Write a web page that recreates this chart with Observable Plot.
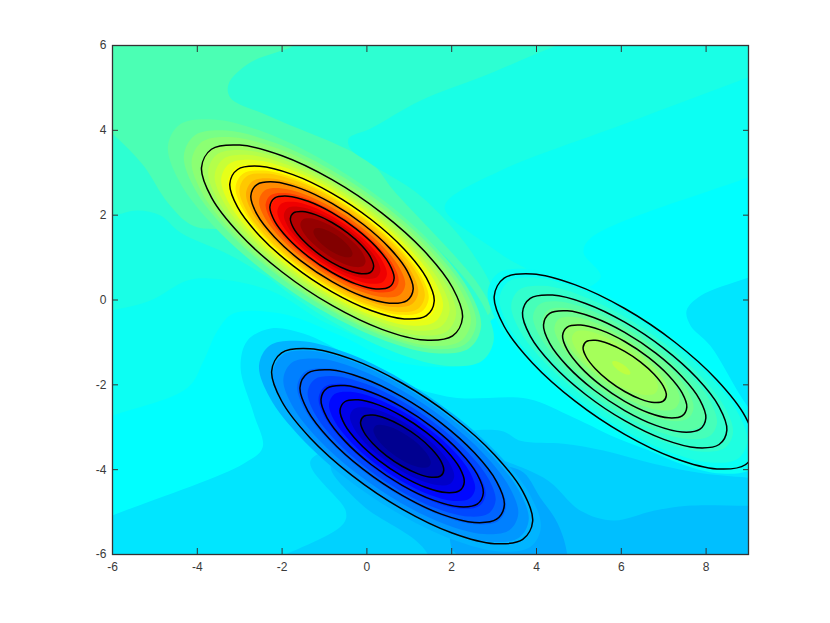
<!DOCTYPE html>
<html>
<head>
<meta charset="utf-8">
<style>html,body{margin:0;padding:0;background:#fff}svg{display:block}</style>
<script src="https://cdn.jsdelivr.net/npm/d3@7"></script>
<script src="https://cdn.jsdelivr.net/npm/@observablehq/plot@0.6"></script>
</head>
<body>
<div id="chart"></div>
<script>
const xTicks = [-6,-4,-2,0,2,4,6,8];
const yTicks = [-6,-4,-2,0,2,4,6];

// Outline of one black contour, read as offsets from its centre (data units)
const ringDx = [3.078,2.844,2.176,1.178,0,-1.178,-2.176,-2.844,-3.078,-2.844,-2.176,-1.178,0,1.178,2.176,2.844];
const ringDy = [-1.767,-2.2,-2.298,-2.046,-1.483,-0.694,0.201,1.065,1.767,2.2,2.298,2.046,1.483,0.694,-0.201,-1.065];

// Black contour groups
const lineCentres = [[-0.823,1.354],[0.832,-3.446],[6.08,-1.684]];
const lineSizes = [1,0.783,0.622,0.476,0.319];

// Background bands, painted from the outermost inwards: colour + outline
const bgColors = ["#4bffb4","#2dffd2","#19ffe6","#0cfff3","#00ffff","#00e6ff","#00e6ff","#00d2ff","#00bfff","#00a8ff"];
const bgShapes = [
  [[-8,8],[12,8],[12,-8],[-8,-8]],
  [[-1.3,6.4],[11,7.5],[11,-7.5],[-7.5,-7.5],[-7,4.7],[-6,3.92],[-5.27,3.17],[-4.7,2.3],[-4.1,1.75],[-3,1.6],[-1,0.5],[1.5,-0.6],[2.9,-0.3],[2.68,0.29],[0.63,2.58],[0.08,3.24],[-2.34,4.35],[-3.22,4.77],[-3.26,5.1],[-2.75,5.6],[-1.73,6]],
  [[5.5,6.35],[11,7.5],[11,-7.5],[-7.5,-7.5],[-7,1.9],[-6,1.99],[-5.41,2.11],[-4.87,1.99],[-4.4,1.59],[-3.22,1.05],[-1.57,0.1],[0.63,-0.84],[1.74,-1.31],[2.84,-1.08],[3.03,-0.01],[2.44,1.17],[1.26,2.46],[0.08,3.22],[-0.39,3.57],[-0.43,3.81],[0.08,4.04],[1.26,4.7],[2.68,5.25]],
  [[11,6],[11.5,-7.5],[-7.5,-7.5],[-7,-0.5],[-6,-0.25],[-5.1,-0.01],[-4.23,0.46],[-3.62,0.5],[-2.27,0.22],[-0.93,-0.56],[0.63,-1.12],[2.44,-1.24],[3.39,-0.49],[4.21,0.34],[3.15,1.09],[1.85,2.11],[1.9,2.34],[3.15,3.05],[6.15,4.18],[9,5.25]],
  [[11,3.6],[11.5,-7.5],[-7.5,-7.5],[-7,-3.1],[-6,-2.73],[-4.23,-2.07],[-3.85,-1.43],[-3.52,-0.72],[-3.15,-0.32],[-2.04,-0.32],[-0.62,-0.84],[0.79,-1.48],[2.44,-1.48],[2.68,-1.08],[2.92,-0.49],[3.62,-0.25],[5.51,0.53],[5.11,1.12],[5.27,1.45],[9,2.89]],
  [[-7,-5.5],[-6,-5.08],[-2.91,-3.86],[-2.46,-3.48],[-2.67,-2.68],[-2.98,-1.59],[-2.82,-0.96],[-2.27,-0.67],[-1.5,-0.79],[-0.32,-1.36],[0.86,-1.97],[2.04,-2.3],[3.79,-2.33],[4.87,-2.77],[6.05,-3.32],[7.7,-3.86],[8.65,-3.98],[9,-3.81],[11,-3.2],[11.5,-7.5],[-7.5,-7.5]],
  [[11,1.2],[9,0.53],[7.87,0.1],[7.54,-0.25],[7.63,-0.6],[8.1,-1.08],[9,-2.54],[11,-5]],
  [[-3,-6.4],[-1.92,-6],[-0.55,-5.27],[-0.5,-4.97],[-1.33,-3.79],[0.79,-3.32],[3.15,-3.08],[3.62,-3.32],[4.64,-3.39],[5.58,-3.55],[6.76,-3.86],[7.94,-4.09],[9,-4.19],[11,-4.4],[11.5,-7.5],[-3,-7.5]],
  [[11,-4.85],[9,-4.85],[7.56,-4.85],[6.76,-4.97],[5.82,-5.2],[5.04,-4.97],[4.17,-4.19],[2,-3.5],[0,-3.6],[-0.85,-3.9],[-0.15,-4.8],[1.43,-5.98],[1.6,-7.5],[11.5,-7.5]],
  [[4.73,-7.5],[4.73,-6.03],[4.5,-5.27],[4.09,-4.66],[3.62,-4.02],[2.5,-4],[2,-5],[2,-5.85],[2.2,-6.1],[2.2,-7.5]]
];

// Filled bands around each peak: relative size, colour, centre x, centre y
const redSizes  = [1.2,1.2,1.12,1.07,1,0.95,0.9,0.85,0.8,0.74,0.71,0.66,0.62,0.56,0.51,0.47,0.42,0.37,0.32,0.25,0.15];
const redColors = ["#2dffd2","#5fffa0","#78ff87","#8cff73","#a0ff5f","#b4ff4b","#c8ff37","#e6ff19","#ffff00","#ffe000","#ffc800","#ffaa00","#ff8c00","#ff6400","#ff3c00","#ff1400","#f00000","#d20000","#b40000","#960000","#820000"];
const redCx = [-0.7,-1,-0.87,-0.84,-0.82,-0.82,-0.82,-0.82,-0.82,-0.82,-0.82,-0.82,-0.82,-0.82,-0.82,-0.82,-0.82,-0.82,-0.82,-0.8,-0.8];
const redCy = [1.2,1.5,1.42,1.38,1.35,1.35,1.35,1.35,1.35,1.35,1.35,1.35,1.35,1.35,1.35,1.35,1.35,1.35,1.35,1.35,1.35];

const blueSizes  = [1.08,0.98,0.9,0.8,0.72,0.64,0.56,0.48,0.4,0.32,0.22];
const blueColors = ["#00b4ff","#0098ff","#0080ff","#0064ff","#0048ff","#0028ff","#0008ff","#0000e8","#0000c8","#0000a8","#000090"];
const blueCx = [0.78,0.8,0.8,0.82,0.82,0.83,0.83,0.83,0.83,0.83,0.83];
const blueCy = [-3.45,-3.45,-3.45,-3.45,-3.45,-3.45,-3.45,-3.45,-3.45,-3.45,-3.45];

const greenSizes  = [1.05,0.95,0.85,0.74,0.66,0.58,0.48,0.4,0.33,0.07];
const greenColors = ["#0afff5","#1effe1","#32ffcd","#46ffb9","#5affa5","#6eff91","#82ff7d","#96ff69","#a5ff5a","#beff41"];
const greenCx = [6.08,6.05,6.02,5.98,5.95,5.92,5.9,5.88,5.85,6];
const greenCy = [-1.68,-1.65,-1.62,-1.58,-1.55,-1.52,-1.5,-1.48,-1.48,-1.6];

const ringPoints = (cx, cy, k) => ringDx.map((dx, i) => [cx + k * dx, cy + k * ringDy[i]]);
const smooth = "catmull-rom-closed";
const fillMark = (pts, color) => Plot.line(pts, {x: d => d[0], y: d => d[1], fill: color, stroke: "none", curve: smooth, clip: true});

const marks = [];
bgShapes.forEach((pts, i) => marks.push(fillMark(pts, bgColors[i])));
const addBands = (sizes, colors, cxs, cys) => sizes.forEach((k, i) => marks.push(fillMark(ringPoints(cxs[i], cys[i], k), colors[i])));
addBands(greenSizes, greenColors, greenCx, greenCy);
addBands(blueSizes, blueColors, blueCx, blueCy);
addBands(redSizes, redColors, redCx, redCy);

for (const [cx, cy] of lineCentres) for (const k of lineSizes) {
  marks.push(Plot.line(ringPoints(cx, cy, k), {x: d => d[0], y: d => d[1], stroke: "#000", strokeWidth: 1.5, curve: smooth, clip: true}));
}

marks.push(
  Plot.frame({stroke: "#333", strokeWidth: 1.3}),
  Plot.axisX({anchor: "bottom", ticks: xTicks, tickSize: -6, tickPadding: 14, stroke: "#333", label: null, tickFormat: d => String(d)}),
  Plot.axisX({anchor: "top", ticks: xTicks, tickSize: -6, stroke: "#333", label: null, tickFormat: () => ""}),
  Plot.axisY({anchor: "left", ticks: yTicks, tickSize: -6, tickPadding: 12, stroke: "#333", label: null, tickFormat: d => String(d)}),
  Plot.axisY({anchor: "right", ticks: yTicks, tickSize: -6, stroke: "#333", label: null, tickFormat: () => ""})
);

const chart = Plot.plot({
  width: 830, height: 623,
  marginLeft: 112, marginRight: 82, marginTop: 45, marginBottom: 69,
  x: {domain: [-6, 9]},
  y: {domain: [-6, 6]},
  style: {fontFamily: "'Liberation Sans', Arial, sans-serif", fontSize: "12px", color: "#3a3a3a", background: "#fff"},
  marks
});
document.getElementById("chart").appendChild(chart);
</script>
</body>
</html>
